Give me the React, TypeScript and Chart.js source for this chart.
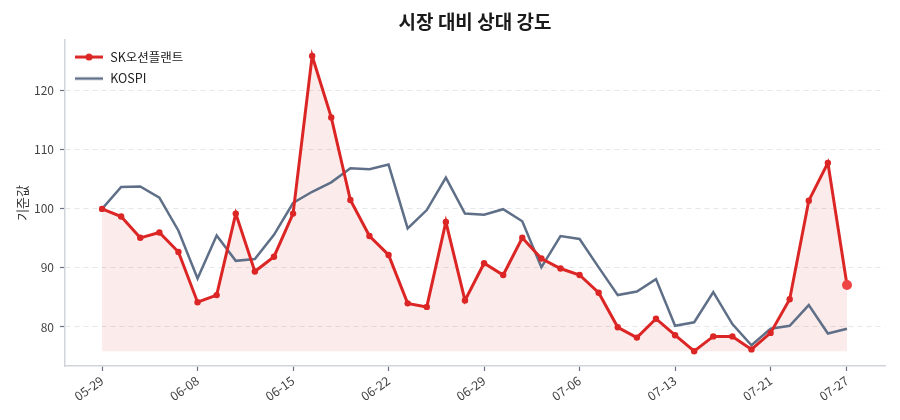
import React, { useRef, useEffect } from 'react';
import Chart from 'chart.js/auto';

// trading days shown on the x axis
const dates = [
  '05-29', '06-01', '06-02', '06-04', '06-05', '06-08', '06-09', '06-10', '06-11', '06-12',
  '06-15', '06-16', '06-17', '06-18', '06-19', '06-22', '06-23', '06-24', '06-25', '06-26',
  '06-29', '06-30', '07-01', '07-02', '07-03', '07-06', '07-07', '07-08', '07-09', '07-10',
  '07-13', '07-14', '07-15', '07-16', '07-20', '07-21', '07-22', '07-23', '07-24', '07-27',
];

const skValues = [
  100.0, 98.7, 95.1, 96.0, 92.7, 84.2, 85.4, 99.2, 89.4, 91.9,
  99.2, 125.9, 115.5, 101.5, 95.4, 92.2, 84.0, 83.4, 97.8, 84.5,
  90.8, 88.8, 95.1, 91.6, 89.9, 88.8, 85.8, 79.95, 78.2, 81.4,
  78.6, 75.9, 78.4, 78.4, 76.2, 79.0, 84.7, 101.4, 107.8, 87.1,
];

const kospiValues = [
  100.0, 103.7, 103.8, 101.9, 96.3, 88.2, 95.5, 91.2, 91.5, 95.6,
  101.0, 102.9, 104.5, 106.9, 106.7, 107.5, 96.7, 99.8, 105.3, 99.2,
  99.0, 99.95, 97.9, 90.1, 95.4, 94.9, 90.1, 85.4, 86.0, 88.1,
  80.2, 80.8, 85.9, 80.5, 76.9, 79.7, 80.2, 83.7, 78.9, 79.7,
];

const xTickIndices = [0, 5, 10, 15, 20, 25, 30, 35, 39];
const yTicks = [80, 90, 100, 110, 120];

const FONT = "'Noto Sans CJK KR', 'Noto Sans', sans-serif";
const RED = '#dc2626';
const SLATE = '#5f6f87';

const makeIcon = (color: string, dot: boolean, width: number) => {
  const c = document.createElement('canvas');
  c.width = 30;
  c.height = 10;
  const g = c.getContext('2d')!;
  g.strokeStyle = color;
  g.lineWidth = width;
  g.beginPath();
  g.moveTo(1, 5);
  g.lineTo(29, 5);
  g.stroke();
  if (dot) {
    g.fillStyle = color;
    g.beginPath();
    g.arc(15, 5, 3.5, 0, Math.PI * 2);
    g.fill();
  }
  return c;
};

// the chartArea legend gets its top reset to 0, so pin it back inside the plot
const legendInPlot = {
  id: 'legendInPlot',
  afterLayout(chart: any) {
    const lg = chart.legend;
    if (!lg) return;
    const h = lg.height;
    lg.top = chart.chartArea.top + 2;
    lg.bottom = lg.top + Math.max(h, chart.chartArea.height);
  },
};

const RelativeStrengthChart: React.FC = () => {
  const canvasRef = useRef<HTMLCanvasElement | null>(null);
  const chartRef = useRef<Chart | null>(null);

  useEffect(() => {
    const ctx = canvasRef.current?.getContext('2d');
    if (!ctx) return;
    if (chartRef.current) chartRef.current.destroy();

    const icons = [makeIcon(RED, true, 3), makeIcon(SLATE, false, 2.5)];
    const fillBase = Math.min(...skValues);
    const last = skValues.length - 1;

    chartRef.current = new Chart(ctx, {
      type: 'line',
      data: {
        datasets: [
          {
            label: 'SK오션플랜트',
            data: skValues.map((v, i) => ({ x: i, y: v })),
            borderColor: RED,
            borderWidth: 3,
            backgroundColor: 'rgba(220, 38, 38, 0.09)',
            fill: { value: fillBase },
            pointRadius: (c: any) => (c.dataIndex === last ? 5 : 3.2),
            pointBackgroundColor: (c: any) => (c.dataIndex === last ? '#ef4444' : RED),
            pointBorderWidth: 0,
            tension: 0,
          },
          {
            label: 'KOSPI',
            data: kospiValues.map((v, i) => ({ x: i, y: v })),
            borderColor: SLATE,
            borderWidth: 2.5,
            pointRadius: 0,
            fill: false,
            tension: 0,
          },
        ],
      },
      options: {
        animation: false,
        responsive: true,
        maintainAspectRatio: false,
        layout: { padding: { right: 15, top: 0, bottom: 0, left: 0 } },
        scales: {
          x: {
            type: 'linear',
            min: -1.94,
            max: 40.99,
            afterBuildTicks: (scale: any) => {
              scale.ticks = xTickIndices.map((v) => ({ value: v }));
            },
            afterFit: (scale: any) => {
              scale.height = 54;
            },
            ticks: {
              autoSkip: false,
              minRotation: 35,
              maxRotation: 35,
              padding: 2,
              color: '#444',
              font: { family: FONT, size: 12.5 },
              callback: (v: any) => dates[v],
            },
            grid: {
              drawOnChartArea: false,
              drawTicks: true,
              tickLength: 5,
              tickColor: '#6b7280',
              tickWidth: 1.2,
            },
            border: { color: '#d1d5db', width: 1.5 },
          },
          y: {
            min: 73.39,
            max: 128.64,
            afterBuildTicks: (scale: any) => {
              scale.ticks = yTicks.map((v) => ({ value: v }));
            },
            afterFit: (scale: any) => {
              scale.width = 65;
            },
            ticks: {
              padding: 6,
              color: '#444',
              font: { family: FONT, size: 12 },
            },
            grid: {
              color: '#e5e7eb',
              lineWidth: 1,
              tickLength: 5,
              tickColor: '#6b7280',
              tickWidth: 1.2,
              tickBorderDash: [],
            },
            border: { color: '#d1d5db', width: 1.5, dash: [5, 4] },
            title: {
              display: true,
              text: '기준값',
              color: '#333',
              font: { family: FONT, size: 13 },
              padding: { top: 14, bottom: 0 },
            },
          },
        },
        plugins: {
          filler: { drawTime: 'beforeDatasetsDraw' },
          title: {
            display: true,
            text: '시장 대비 상대 강도',
            fullSize: false,
            color: '#1a1a1a',
            font: { family: FONT, size: 19, weight: 'bold' },
            padding: { top: 10, bottom: 7 },
          },
          legend: {
            position: 'chartArea',
            align: 'start',
            labels: {
              usePointStyle: true,
              pointStyleWidth: 30,
              padding: 9,
              color: '#222',
              font: { family: FONT, size: 12.5 },
              generateLabels: (chart: any) =>
                chart.data.datasets.map((ds: any, i: number) => ({
                  text: ds.label,
                  pointStyle: icons[i],
                  fillStyle: 'transparent',
                  strokeStyle: 'transparent',
                  lineWidth: 0,
                  hidden: false,
                  datasetIndex: i,
                  fontColor: '#222',
                })),
            },
          },
          tooltip: { enabled: false },
        },
      } as any,
      plugins: [legendInPlot],
    } as any);

    return () => {
      if (chartRef.current) {
        chartRef.current.destroy();
        chartRef.current = null;
      }
    };
  }, []);

  return (
    <div style={{ position: 'fixed', left: 0, top: 0, width: 900, height: 420, background: '#fff' }}>
      <canvas ref={canvasRef} />
    </div>
  );
};

export default function App() {
  return <RelativeStrengthChart />;
}
